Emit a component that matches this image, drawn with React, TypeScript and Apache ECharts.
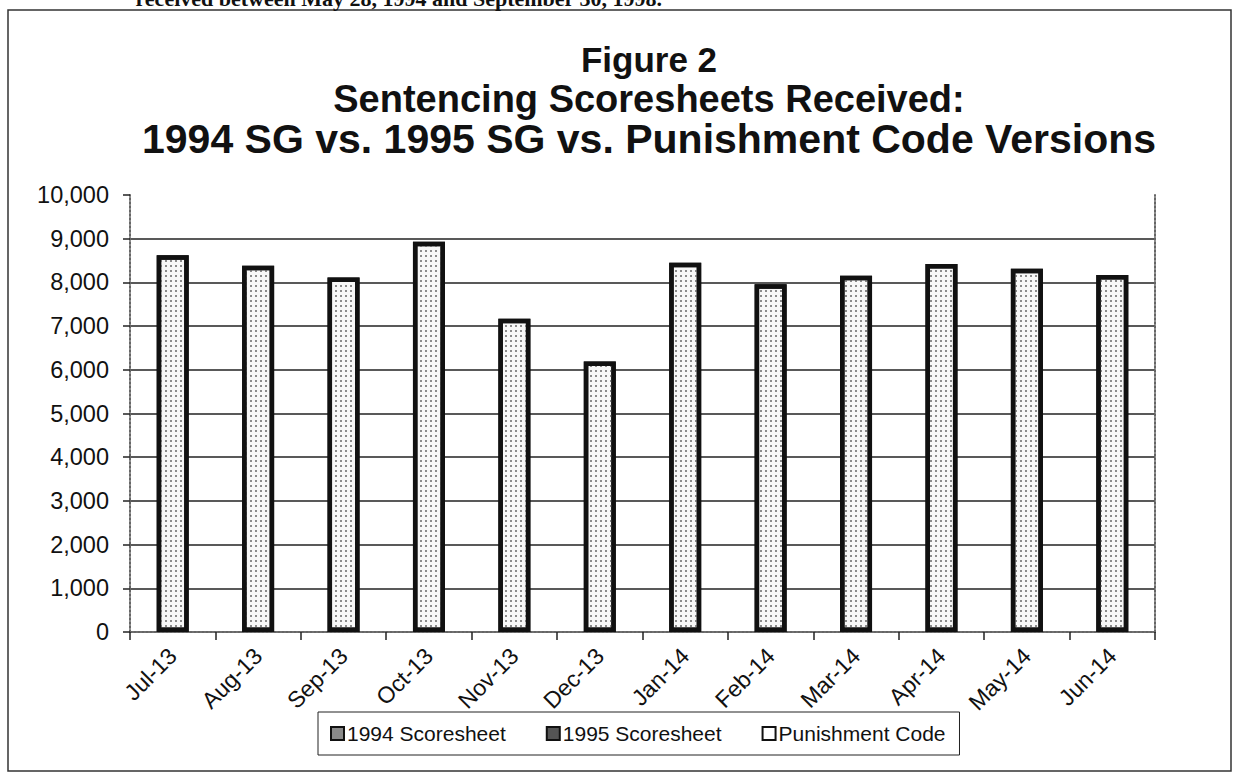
import React, { useEffect, useRef } from "react";
import * as echarts from "echarts";

const months = ["Jul-13", "Aug-13", "Sep-13", "Oct-13", "Nov-13", "Dec-13", "Jan-14", "Feb-14", "Mar-14", "Apr-14", "May-14", "Jun-14"];
const sg1994: number[] = [8620, 8380, 8110, 8930, 7170, 6190, 8450, 7960, 8150, 8420, 8310, 8170];
const sg1995: number[] = [];
const punishmentCode: number[] = [];
const seriesNames = ["1994 Scoresheet", "1995 Scoresheet", "Punishment Code"];
const yTicks = { min: 0, max: 10000, interval: 1000 };
const titleLines = ["Figure 2", "Sentencing Scoresheets Received:", "1994 SG vs. 1995 SG vs. Punishment Code Versions"];
const headerText = "received between May 28, 1994 and September 30, 1998.";

const FONT = "'Liberation Sans', Arial, sans-serif";

export default function App() {
  const ref = useRef<HTMLDivElement>(null);
  useEffect(() => {
    document.body.style.margin = "0";
    const chart = echarts.init(ref.current!, null, { renderer: "svg" });
    const dotDecal = {
      symbol: "rect",
      symbolSize: 1,
      color: "#8a8a8a",
      backgroundColor: "#f7f7f7",
      dashArrayX: [1.3, 3],
      dashArrayY: [1.3, 3],
    };
    const titleStyle = (size: number) => ({
      fontFamily: FONT,
      fontWeight: "bold",
      fontSize: size,
      lineHeight: 40,
      color: "#111",
    });
    chart.setOption({
      animation: false,
      backgroundColor: "#ffffff",
      textStyle: { fontFamily: FONT },
      title: {
        text: `{a|${titleLines[0]}}\n{b|${titleLines[1]}}\n{c|${titleLines[2]}}`,
        left: 644,
        top: 34,
        textAlign: "center",
        textStyle: {
          ...titleStyle(36),
          rich: { a: titleStyle(35), b: titleStyle(38), c: titleStyle(41) },
        },
      },
      legend: {
        data: [
          { name: seriesNames[0], itemStyle: { color: "#8a8a8a", borderColor: "#111", borderWidth: 2 } },
          { name: seriesNames[1], itemStyle: { color: "#555", borderColor: "#111", borderWidth: 2 } },
          { name: seriesNames[2], itemStyle: { color: "#fff", borderColor: "#111", borderWidth: 2 } },
        ],
        left: 318,
        top: 712,
        orient: "horizontal",
        padding: [11, 14, 11, 12],
        itemGap: 40,
        itemWidth: 13,
        itemHeight: 13,
        borderColor: "#222",
        borderWidth: 1,
        icon: "rect",
        textStyle: { fontFamily: FONT, fontSize: 21, color: "#111", padding: [0, 0, 0, -2] },
      },
      grid: { left: 130, right: 83, top: 195, bottom: 141, containLabel: false },
      xAxis: [
        {
          type: "category",
          data: months,
          boundaryGap: true,
          axisLine: { show: true, lineStyle: { color: "#666", width: 2, type: "dotted" } },
          axisTick: { show: true, alignWithLabel: false, length: 8, lineStyle: { color: "#222", width: 1.5 } },
          axisLabel: { rotate: 45, fontFamily: FONT, fontSize: 23, color: "#111", margin: 20 },
          splitLine: { show: false },
        },
        {
          type: "category",
          data: months,
          position: "top",
          axisLine: { show: true, lineStyle: { color: "#666", width: 2, type: "dotted" } },
          axisTick: { show: false },
          axisLabel: { show: false },
        },
      ],
      yAxis: [
        {
          type: "value",
          min: yTicks.min,
          max: yTicks.max,
          interval: yTicks.interval,
          axisLine: { show: true, lineStyle: { color: "#666", width: 2, type: "dotted" } },
          axisTick: { show: true, length: 7, lineStyle: { color: "#222", width: 1.5 } },
          axisLabel: {
            fontFamily: FONT,
            fontSize: 23.5,
            color: "#111",
            margin: 21,
            formatter: (v: number) => v.toLocaleString("en-US"),
          },
          splitLine: { show: true, showMinLine: false, showMaxLine: false, lineStyle: { color: "#222", width: 1.5 } },
        },
        {
          type: "value",
          min: yTicks.min,
          max: yTicks.max,
          interval: yTicks.interval,
          position: "right",
          axisLine: { show: true, lineStyle: { color: "#666", width: 2, type: "dotted" } },
          axisTick: { show: false },
          axisLabel: { show: false },
          splitLine: { show: false },
        },
      ],
      series: [
        {
          name: seriesNames[0],
          type: "bar",
          stack: "total",
          data: sg1994,
          barWidth: 32,
          itemStyle: { color: "#f7f7f7", decal: dotDecal, borderColor: "#111", borderWidth: 4.5 },
        },
        {
          name: seriesNames[1],
          type: "bar",
          stack: "total",
          data: sg1995,
          barWidth: 32,
          itemStyle: { color: "#555", borderColor: "#111", borderWidth: 2 },
        },
        {
          name: seriesNames[2],
          type: "bar",
          stack: "total",
          data: punishmentCode,
          barWidth: 32,
          itemStyle: { color: "#fff", borderColor: "#111", borderWidth: 2 },
        },
      ],
      graphic: [
        {
          type: "rect",
          shape: { x: 8, y: 10, width: 1223, height: 761 },
          style: { fill: "none", stroke: "#333", lineWidth: 1.5 },
          silent: true,
          z: -1,
        },
        {
          type: "text",
          x: 662,
          y: -13,
          style: {
            text: headerText,
            fontFamily: "'Liberation Serif', 'Times New Roman', serif",
            fontWeight: "bold",
            fontSize: 22,
            fill: "#111",
            textAlign: "right",
            textVerticalAlign: "top",
          },
          silent: true,
        },
      ],
    });
    return () => chart.dispose();
  }, []);
  return <div ref={ref} style={{ width: 1238, height: 773, position: "absolute", left: 0, top: 0 }} />;
}
